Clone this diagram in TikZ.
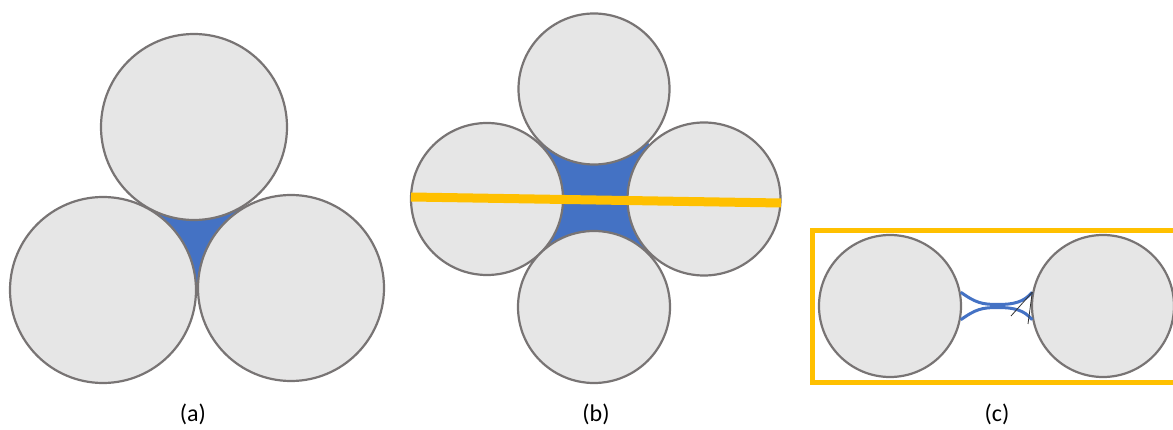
\documentclass[tikz,border=0pt]{standalone}
\usepackage{fontspec}
\setmainfont{Carlito}
\definecolor{ballfill}{HTML}{E6E6E6}
\definecolor{ballline}{HTML}{787474}
\definecolor{fillblue}{HTML}{4472C4}
\definecolor{gold}{HTML}{FFC000}
\begin{document}
\begin{tikzpicture}[x=1pt,y=-1pt,
  ball/.style={circle,draw=ballline,fill=ballfill,line width=2.2pt,inner sep=0pt},
  lbl/.style={font=\fontsize{24}{28}\selectfont,inner sep=0pt},
  menisc/.style={draw=fillblue,line width=3pt},
  thin/.style={draw=black!80,line width=0.8pt}]
\useasboundingbox (0,0) rectangle (1173,430);
% (a)
\coordinate (pa1) at (194,127);
\coordinate (pa2) at (103,290);
\coordinate (pa3) at (291,288);
\fill[fillblue] (pa1) -- (pa2) -- (pa3) -- cycle;
\node[ball,minimum size=186pt] (a1) at (pa1) {};
\node[ball,minimum size=186pt] (a2) at (pa2) {};
\node[ball,minimum size=186pt] (a3) at (pa3) {};
\node[lbl] (la) at (193,414) {(a)};
% (b)
\coordinate (pb1) at (594,89);
\coordinate (pb2) at (487,199);
\coordinate (pb3) at (704,199);
\coordinate (pb4) at (594,307);
\fill[fillblue] (pb1) -- (pb2) -- (pb4) -- (pb3) -- cycle;
\node[ball,minimum size=151pt] (b1) at (pb1) {};
\node[ball,minimum size=152pt] (b2) at (pb2) {};
\node[ball,minimum size=153pt] (b3) at (pb3) {};
\node[ball,minimum size=152pt] (b4) at (pb4) {};
\coordinate (y1) at (411,197);
\coordinate (y2) at (781,203);
\draw[gold,line width=9pt] (y1) -- (y2);
\node[lbl] (lb) at (596,414) {(b)};
% (c)
\draw[gold,line width=5pt] (812,231) rectangle (1180,382);
\node[ball,minimum size=142pt] (c1) at (890,306) {};
\node[ball,minimum size=142pt] (c2) at (1103,306) {};
\coordinate (m1) at (998,304.5);
\coordinate (m2) at (998,307.5);
\draw[menisc] (c1.11) .. controls (976,303) and (982,304.5) .. (m1) .. controls (1014,304.5) and (1024,302) .. (c2.169);
\draw[menisc] (c1.-11) .. controls (976,309) and (982,307.5) .. (m2) .. controls (1014,307.5) and (1024,310) .. (c2.-169);
\coordinate (t1) at (1011,316);
\coordinate (t2) at (1028,324);
\draw[thin] (c2.169) -- (t1);
\draw[thin] (c2.169) -- (t2);
\node[lbl] (lc) at (997,414) {(c)};
\end{tikzpicture}
\end{document}
